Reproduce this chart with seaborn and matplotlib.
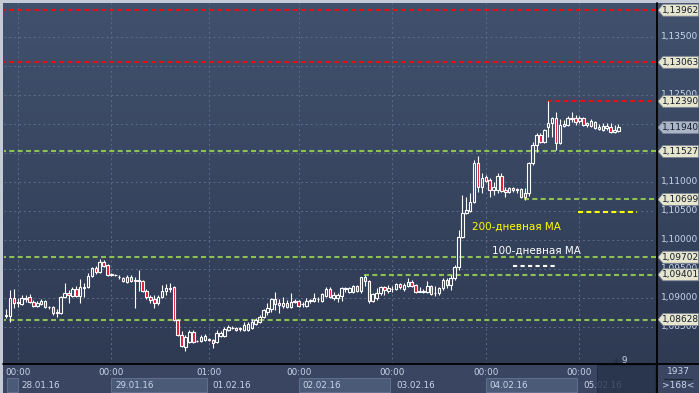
import numpy as np
import pandas as pd
import matplotlib
matplotlib.use("Agg")
import matplotlib.pyplot as plt
import seaborn as sns
from matplotlib.patches import Polygon, Rectangle
from matplotlib.lines import Line2D
from matplotlib.colors import LinearSegmentedColormap

sns.set_theme(style="dark")
plt.rcParams['font.family'] = ['DejaVu Sans']

# EURUSD H1, 28.01.16 - 05.02.16
opens = [
    1.0871, 1.0869, 1.0869, 1.0900, 1.0891, 1.0890, 1.0900, 1.0902, 1.0893, 1.0886,
    1.0890, 1.0895, 1.0885, 1.0885, 1.0876, 1.0874, 1.0902, 1.0909, 1.0903, 1.0916,
    1.0903, 1.0919, 1.0919, 1.0938, 1.0952, 1.0945, 1.0962, 1.0957, 1.0941, 1.0940,
    1.0937, 1.0934, 1.0928, 1.0936, 1.0931, 1.0929, 1.0930, 1.0912, 1.0902, 1.0898,
    1.0891, 1.0902, 1.0912, 1.0916, 1.0919, 1.0862, 1.0836, 1.0815, 1.0824, 1.0841,
    1.0825, 1.0826, 1.0828, 1.0829, 1.0828, 1.0824, 1.0834, 1.0834, 1.0845, 1.0849,
    1.0848, 1.0847, 1.0845, 1.0845, 1.0848, 1.0855, 1.0859, 1.0867, 1.0876, 1.0881,
    1.0898, 1.0891, 1.0886, 1.0891, 1.0885, 1.0893, 1.0895, 1.0889, 1.0886, 1.0895,
    1.0895, 1.0899, 1.0895, 1.0903, 1.0916, 1.0900, 1.0900, 1.0903, 1.0916, 1.0910,
    1.0910, 1.0921, 1.0912, 1.0936, 1.0929, 1.0895, 1.0900, 1.0909, 1.0919, 1.0912,
    1.0916, 1.0916, 1.0924, 1.0916, 1.0921, 1.0928, 1.0922, 1.0911, 1.0912, 1.0910,
    1.0921, 1.0908, 1.0909, 1.0917, 1.0931, 1.0922, 1.0934, 1.0953, 1.1005, 1.1047,
    1.1050, 1.1066, 1.1133, 1.1091, 1.1109, 1.1103, 1.1086, 1.1086, 1.1110, 1.1086,
    1.1083, 1.1090, 1.1088, 1.1088, 1.1074, 1.1081, 1.1133, 1.1164, 1.1181, 1.1169,
    1.1194, 1.1202, 1.1210, 1.1167, 1.1196, 1.1198, 1.1210, 1.1210, 1.1205, 1.1210,
    1.1198, 1.1196, 1.1203, 1.1195, 1.1190, 1.1193, 1.1195, 1.1186, 1.1188,
]
highs = [
    1.0874, 1.0881, 1.0914, 1.0916, 1.0900, 1.0905, 1.0905, 1.0907, 1.0897, 1.0895,
    1.0898, 1.0897, 1.0886, 1.0886, 1.0881, 1.0903, 1.0926, 1.0914, 1.0919, 1.0921,
    1.0933, 1.0926, 1.0943, 1.0953, 1.0955, 1.0967, 1.0966, 1.0959, 1.0943, 1.0941,
    1.0940, 1.0936, 1.0940, 1.0940, 1.0936, 1.0948, 1.0931, 1.0916, 1.0905, 1.0905,
    1.0905, 1.0922, 1.0924, 1.0926, 1.0921, 1.0864, 1.0843, 1.0836, 1.0845, 1.0845,
    1.0828, 1.0836, 1.0838, 1.0831, 1.0829, 1.0845, 1.0843, 1.0850, 1.0853, 1.0852,
    1.0850, 1.0850, 1.0859, 1.0859, 1.0864, 1.0866, 1.0871, 1.0881, 1.0891, 1.0900,
    1.0910, 1.0898, 1.0902, 1.0897, 1.0909, 1.0898, 1.0897, 1.0893, 1.0900, 1.0898,
    1.0909, 1.0902, 1.0909, 1.0919, 1.0919, 1.0910, 1.0909, 1.0919, 1.0919, 1.0919,
    1.0922, 1.0922, 1.0936, 1.0940, 1.0931, 1.0909, 1.0917, 1.0921, 1.0921, 1.0922,
    1.0921, 1.0926, 1.0926, 1.0926, 1.0934, 1.0931, 1.0924, 1.0919, 1.0916, 1.0929,
    1.0922, 1.0921, 1.0919, 1.0934, 1.0934, 1.0940, 1.0957, 1.1017, 1.1078, 1.1074,
    1.1081, 1.1138, 1.1145, 1.1116, 1.1112, 1.1107, 1.1100, 1.1116, 1.1116, 1.1091,
    1.1091, 1.1091, 1.1090, 1.1090, 1.1090, 1.1135, 1.1169, 1.1185, 1.1185, 1.1191,
    1.1239, 1.1212, 1.1221, 1.1209, 1.1207, 1.1214, 1.1221, 1.1216, 1.1214, 1.1212,
    1.1203, 1.1209, 1.1205, 1.1200, 1.1202, 1.1202, 1.1202, 1.1198, 1.1200,
]
lows = [
    1.0867, 1.0866, 1.0859, 1.0883, 1.0885, 1.0888, 1.0893, 1.0891, 1.0885, 1.0885,
    1.0888, 1.0883, 1.0881, 1.0871, 1.0867, 1.0872, 1.0900, 1.0891, 1.0902, 1.0902,
    1.0891, 1.0902, 1.0917, 1.0936, 1.0941, 1.0943, 1.0953, 1.0938, 1.0938, 1.0938,
    1.0933, 1.0928, 1.0926, 1.0928, 1.0883, 1.0912, 1.0910, 1.0898, 1.0891, 1.0883,
    1.0888, 1.0900, 1.0905, 1.0910, 1.0860, 1.0834, 1.0815, 1.0809, 1.0822, 1.0822,
    1.0824, 1.0824, 1.0826, 1.0826, 1.0814, 1.0822, 1.0833, 1.0833, 1.0843, 1.0846,
    1.0843, 1.0843, 1.0843, 1.0843, 1.0847, 1.0853, 1.0857, 1.0866, 1.0871, 1.0876,
    1.0879, 1.0874, 1.0883, 1.0883, 1.0883, 1.0891, 1.0885, 1.0885, 1.0885, 1.0891,
    1.0893, 1.0893, 1.0893, 1.0902, 1.0900, 1.0897, 1.0893, 1.0895, 1.0910, 1.0909,
    1.0909, 1.0910, 1.0909, 1.0921, 1.0891, 1.0893, 1.0897, 1.0905, 1.0905, 1.0909,
    1.0910, 1.0914, 1.0916, 1.0912, 1.0919, 1.0919, 1.0909, 1.0910, 1.0909, 1.0909,
    1.0905, 1.0903, 1.0905, 1.0914, 1.0917, 1.0914, 1.0931, 1.0948, 1.1003, 1.1045,
    1.1048, 1.1064, 1.1083, 1.1081, 1.1100, 1.1074, 1.1078, 1.1081, 1.1083, 1.1074,
    1.1081, 1.1083, 1.1081, 1.1072, 1.1069, 1.1076, 1.1129, 1.1152, 1.1167, 1.1167,
    1.1178, 1.1178, 1.1155, 1.1165, 1.1195, 1.1196, 1.1203, 1.1198, 1.1202, 1.1196,
    1.1195, 1.1195, 1.1192, 1.1190, 1.1188, 1.1190, 1.1184, 1.1184, 1.1186,
]
closes = [
    1.0871, 1.0871, 1.0900, 1.0891, 1.0893, 1.0900, 1.0899, 1.0893, 1.0886, 1.0891,
    1.0895, 1.0885, 1.0884, 1.0874, 1.0874, 1.0902, 1.0909, 1.0905, 1.0916, 1.0903,
    1.0919, 1.0918, 1.0938, 1.0952, 1.0945, 1.0962, 1.0955, 1.0940, 1.0940, 1.0939,
    1.0936, 1.0929, 1.0936, 1.0929, 1.0930, 1.0931, 1.0912, 1.0902, 1.0897, 1.0891,
    1.0902, 1.0912, 1.0917, 1.0917, 1.0862, 1.0836, 1.0817, 1.0833, 1.0841, 1.0824,
    1.0826, 1.0833, 1.0834, 1.0828, 1.0822, 1.0840, 1.0840, 1.0847, 1.0850, 1.0848,
    1.0845, 1.0848, 1.0853, 1.0855, 1.0859, 1.0862, 1.0867, 1.0879, 1.0883, 1.0898,
    1.0890, 1.0888, 1.0891, 1.0885, 1.0893, 1.0894, 1.0886, 1.0890, 1.0895, 1.0896,
    1.0900, 1.0898, 1.0907, 1.0916, 1.0902, 1.0905, 1.0905, 1.0917, 1.0917, 1.0917,
    1.0921, 1.0912, 1.0936, 1.0929, 1.0895, 1.0907, 1.0909, 1.0919, 1.0914, 1.0917,
    1.0915, 1.0924, 1.0919, 1.0922, 1.0928, 1.0921, 1.0910, 1.0912, 1.0911, 1.0921,
    1.0907, 1.0909, 1.0917, 1.0931, 1.0922, 1.0934, 1.0953, 1.1005, 1.1047, 1.1052,
    1.1066, 1.1133, 1.1091, 1.1107, 1.1102, 1.1086, 1.1091, 1.1110, 1.1084, 1.1083,
    1.1090, 1.1086, 1.1087, 1.1074, 1.1081, 1.1133, 1.1164, 1.1181, 1.1169, 1.1190,
    1.1202, 1.1210, 1.1167, 1.1198, 1.1200, 1.1210, 1.1209, 1.1203, 1.1210, 1.1198,
    1.1202, 1.1205, 1.1193, 1.1191, 1.1196, 1.1196, 1.1186, 1.1190, 1.1194,
]

# уровни сопротивления / поддержки и бар, с которого они начинаются
red_levels = [1.13962, 1.13063, 1.12390]
red_from = [0, 0, 140]
green_levels = [1.11527, 1.10699, 1.09702, 1.09401, 1.08628]
green_from = [0, 134, 0, 93, 0]
current_price = 1.11940
ma200 = 1.1048
ma100 = 1.0955

price_ticks = [1.135, 1.130, 1.125, 1.120, 1.115, 1.110, 1.105, 1.100, 1.095, 1.090, 1.085]
day_idx = [4, 28, 53, 76, 100, 124, 148]
time_labels = ['00:00', '00:00', '01:00', '00:00', '00:00', '00:00', '00:00']
date_labels = ['28.01.16', '29.01.16', '01.02.16', '02.02.16', '03.02.16', '04.02.16', '05.02.16']
bars_total = 1937
bars_shown = 168
scroll_mark = 9

# --- геометрия (пиксели исходного скриншота) ---
W, H = 699, 393
Y_LO, Y_HI = 1.07862, 1.14086
PX = (Y_HI - Y_LO) / 361.0   # цена на один пиксель


def px2idx(px):
    return (px - 2.2) / 3.9


def py2price(py):
    return Y_HI - (py - 3) * PX


TXT = '#c9d5ea'
fig = plt.figure(figsize=(W / 100, H / 100), dpi=100, facecolor='#c4cbd7')

# фон с градиентом
bg = fig.add_axes([3 / W, 29 / H, 696 / W, 361 / H])
grad = np.linspace(0, 1, 256).reshape(-1, 1)
cmap = LinearSegmentedColormap.from_list('bg', ['#41516d', '#2f3a53'])
bg.imshow(grad, aspect='auto', cmap=cmap, extent=[0, 1, 0, 1], origin='upper')
bg.axis('off')

# основной график
ax = fig.add_axes([4 / W, 29 / H, 652 / W, 361 / H])
ax.patch.set_alpha(0)
ax.set_xlim(px2idx(4), px2idx(656))
ax.set_ylim(Y_LO, Y_HI)
ax.set_xticks(day_idx)
ax.set_yticks(price_ticks)
ax.tick_params(length=0, labelleft=False, labelbottom=False)
for s in ax.spines.values():
    s.set_visible(False)
ax.grid(True, color='#5c6b89', linestyle=(0, (2, 3)), linewidth=0.7)

df = pd.DataFrame({'o': opens, 'h': highs, 'l': lows, 'c': closes})
df['i'] = np.arange(len(df))
df['top'] = df[['o', 'c']].max(axis=1)
df['bot'] = df[['o', 'c']].min(axis=1)
up = df['c'] >= df['o']

# уровни
for v, start in zip(red_levels, red_from):
    ax.hlines(v, start - 0.3, px2idx(656), color='#e51212', lw=1.5, linestyle=(0, (2.2, 1.8)), zorder=2)
for v, start in zip(green_levels, green_from):
    ax.hlines(v, start - 0.3, px2idx(656), color='#8dc153', lw=1.5, linestyle=(0, (2.4, 1.6)), zorder=2)

# свечи
ax.vlines(df['i'], df['top'], df['h'], color='white', lw=0.8, zorder=3)
ax.vlines(df['i'], df['l'], df['bot'], color='white', lw=0.8, zorder=3)
ax.bar(df['i'], (df['top'] - df['bot']).clip(lower=0.00004), bottom=df['bot'], width=0.65,
       color=np.where(up, 'none', '#e3142f'), edgecolor='white', linewidth=0.8, zorder=4)

# скользящие средние
sns.lineplot(x=[px2idx(578), px2idx(637)], y=[ma200, ma200], ax=ax, color='#ffff00',
             lw=1.5, linestyle=(0, (2.4, 1.6)), zorder=5)
sns.lineplot(x=[px2idx(513), px2idx(557)], y=[ma100, ma100], ax=ax, color='white',
             lw=1.5, linestyle=(0, (2.0, 1.6)), zorder=5)
ax.text(px2idx(472), py2price(227), '200-дневная MA', color='#ffff00', fontsize=7.5,
        va='center', ha='left', zorder=6)
ax.text(px2idx(492), py2price(251), '100-дневная MA', color='white', fontsize=7.5,
        va='center', ha='left', zorder=6)

ax.plot(px2idx(616), py2price(361), marker='^', ms=5, color='#283246', clip_on=False, zorder=6)
ax.text(px2idx(622), py2price(360), str(scroll_mark), color=TXT, fontsize=6.3,
        va='center', ha='left', zorder=6)

# правая шкала
rax = fig.add_axes([656 / W, 29 / H, 43 / W, 361 / H])
rax.patch.set_alpha(0)
rax.set_xlim(0, 43)
rax.set_ylim(Y_LO, Y_HI)
rax.axis('off')

hh = 6 * PX
tags = red_levels + [current_price] + green_levels
for v in price_ticks:
    # подписи, полностью закрытые ярлыками уровней, не видны
    if min(abs(v - t) for t in tags) < 4 * PX:
        continue
    rax.text(5, v, f'{v:.5f}'.replace('.', ','), color=TXT, fontsize=6.5,
             va='center', ha='left', zorder=2)

for v in tags:
    fc = '#aab6c7' if v == current_price else '#e6e6cf'
    poly = Polygon([(2, v), (7, v + hh), (42.5, v + hh), (42.5, v - hh), (7, v - hh)],
                   closed=True, fc=fc, ec='#7d8494', lw=0.6, zorder=3)
    rax.add_patch(poly)
    rax.text(24.5, v, f'{v:.5f}'.replace('.', ','), color='#141c2a', fontsize=6.5,
             va='center', ha='center', zorder=4)

# нижняя шкала времени
bax = fig.add_axes([3 / W, 0, 653 / W, 29 / H])
bax.set_facecolor('#3a4661')
bax.set_xlim(px2idx(3), px2idx(656))
bax.set_ylim(29, 0)
bax.set_xticks([])
bax.set_yticks([])
for s in bax.spines.values():
    s.set_visible(False)

box_kw = dict(fc='#4b5a77', ec='#606f8d', lw=0.7)
bax.add_patch(Rectangle((px2idx(7), 14), day_idx[0] - px2idx(7), 14, **box_kw))
for k in [1, 3, 5]:
    bax.add_patch(Rectangle((day_idx[k], 14), day_idx[k + 1] - day_idx[k] - 0.6, 14, **box_kw))
for x, t, d in zip(day_idx, time_labels, date_labels):
    bax.text(x, 8.5, t, color=TXT, fontsize=6.3, ha='center', va='center')
    bax.text(x + 1.0, 21.5, d, color=TXT, fontsize=6.3, ha='left', va='center')
bax.add_patch(Rectangle((px2idx(597), 1), px2idx(655) - px2idx(597), 27.5,
                        fc='#27324a', ec='#1e273a', lw=0.6, alpha=0.8, zorder=5))

# угол справа снизу
cax = fig.add_axes([656 / W, 0, 43 / W, 29 / H])
cax.set_facecolor('#3a4661')
cax.set_xlim(0, 43)
cax.set_ylim(29, 0)
cax.set_xticks([])
cax.set_yticks([])
for s in cax.spines.values():
    s.set_visible(False)
cax.text(22, 8, str(bars_total), color=TXT, fontsize=6.5, ha='center', va='center')
cax.plot([8, 36], [15, 15], color='#1d2536', lw=0.8)
cax.text(22, 21, f'>{bars_shown}<', color=TXT, fontsize=6.5, ha='center', va='center')

# разделители
fig.add_artist(Line2D([3 / W, 1], [29 / H, 29 / H], color='black', lw=1.3))
fig.add_artist(Line2D([656.5 / W, 656.5 / W], [0, 390 / H], color='black', lw=1.3))

fig.savefig('out.png', dpi=100, facecolor=fig.get_facecolor())
